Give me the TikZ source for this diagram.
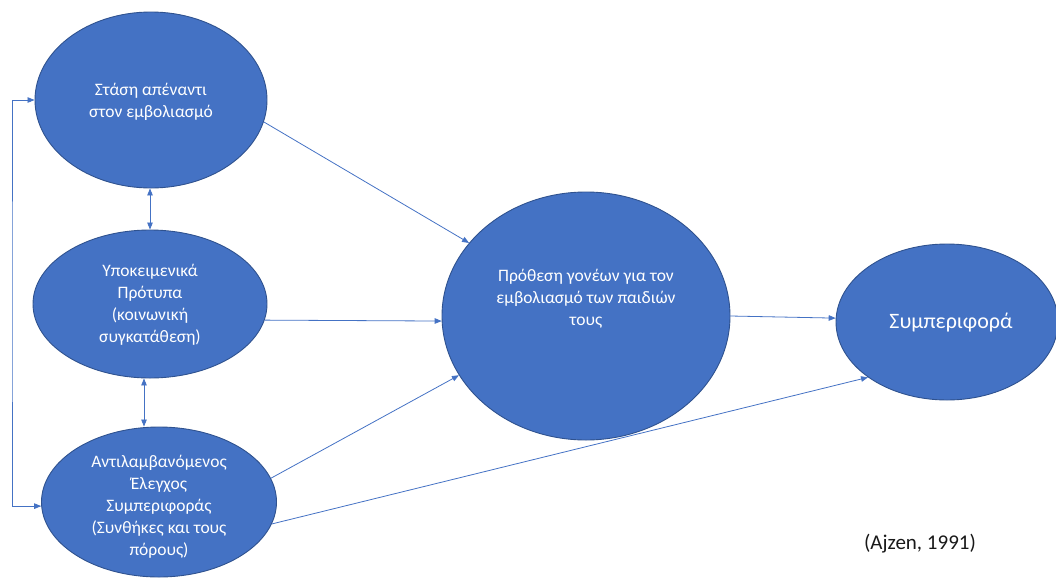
\documentclass[tikz,border=0pt]{standalone}
\usepackage{fontspec}
\setmainfont{Carlito}
\usetikzlibrary{shapes.geometric,arrows.meta}
\definecolor{efill}{HTML}{4472C4}
\definecolor{eline}{HTML}{2F528F}
\definecolor{aline}{HTML}{4472C4}
\begin{document}
\begin{tikzpicture}[x=1pt,y=-1pt,
  ell/.style={ellipse,draw=eline,fill=efill,line width=0.9pt,inner sep=0pt},
  lbl/.style={text=white,align=center,font=\fontsize{17.5}{22}\selectfont},
  conn/.style={draw=aline,line width=0.8pt,-{Triangle[length=7pt,width=5.5pt]}},
  both/.style={draw=aline,line width=0.8pt,{Triangle[length=7pt,width=5.5pt]}-{Triangle[length=7pt,width=5.5pt]}}]
\useasboundingbox (0,0) rectangle (1056,581);
% ellipses
\node[ell,minimum width=232pt,minimum height=176pt] (A) at (151,100) {};
\node[ell,minimum width=234pt,minimum height=148pt] (B) at (150,304) {};
\node[ell,minimum width=235pt,minimum height=150pt] (C) at (159,502) {};
\node[ell,minimum width=288pt,minimum height=248pt] (D) at (586,316) {};
\node[ell,minimum width=222pt,minimum height=156pt] (E) at (947,322) {};
% texts
\node[lbl] (tA) at (151,102) {Στάση απέναντι\\στον εμβολιασμό};
\node[lbl] (tB) at (150,305) {Υποκειμενικά\\Πρότυπα\\(κοινωνική\\συγκατάθεση)};
\node[lbl] (tC) at (159,507) {Αντιλαμβανόμενος\\Έλεγχος\\Συμπεριφοράς\\(Συνθήκες και τους\\πόρους)};
\node[lbl] (tD) at (586,299) {Πρόθεση γονέων για τον\\εμβολιασμό των παιδιών\\τους};
\node[text=white,font=\fontsize{22}{26}\selectfont] (tE) at (951,323) {Συμπεριφορά};
\node[text=black!90,font=\fontsize{21}{25}\selectfont] (ref) at (920,544) {(Ajzen, 1991)};
% connectors
\draw[conn] (A.-11) -- (D.148);
\draw[conn] (B.-8) -- (D.182);
\draw[conn] (C.12) -- (D.205);
\draw[conn] (D.0) -- (E.178);
\draw[conn] (C.-11) -- (E.215);
\coordinate (v1) at (150,0);
\coordinate (v2) at (144,0);
\draw[both] (A.south -| v1) -- (B.north -| v1);
\draw[both] (B.south -| v2) -- (C.north -| v2);
\coordinate (lx) at (12,300);
\draw[both] (A.west) -| (lx) |- (C.182);
\end{tikzpicture}
\end{document}
